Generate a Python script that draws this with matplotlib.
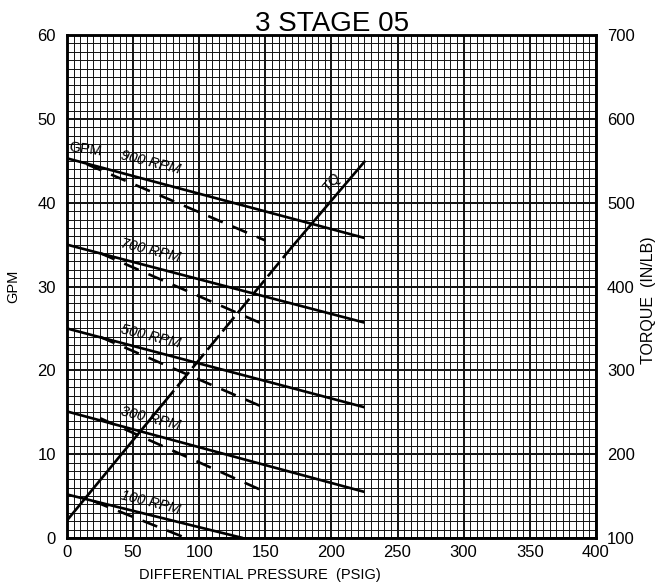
import matplotlib
matplotlib.use("Agg")
import matplotlib.pyplot as plt
import numpy as np

plt.rcParams['font.family'] = ['Liberation Sans', 'DejaVu Sans']

# ---- data ----
rpm_labels = ["900 RPM", "700 RPM", "500 RPM", "300 RPM", "100 RPM"]
# solid GPM lines: (pressure, gpm) end points
gpm_x = [[0, 225], [0, 225], [0, 225], [0, 225], [0, 133]]
gpm_y = [[45.3, 35.8], [35.0, 25.7], [25.0, 15.6], [15.1, 5.5], [5.2, 0.0]]
# dashed lines
dash_x = [[15, 150], [25, 150], [25, 150], [25, 150], [20, 90]]
dash_y = [[44.6, 35.5], [34.0, 25.4], [24.0, 15.5], [14.3, 5.5], [4.4, 0.0]]
# label positions for rpm text
lab_x = [63, 63, 63, 63, 63]
lab_y = [44.8, 34.3, 24.1, 14.3, 4.2]
# torque line (right axis, in/lb)
tq_x = [0, 72, 170, 225]
tq_y = [121, 259, 447, 549]

x_ticks = [0, 50, 100, 150, 200, 250, 300, 350, 400]
y_ticks = [0, 10, 20, 30, 40, 50, 60]
t_ticks = [100, 200, 300, 400, 500, 600, 700]

fig = plt.figure(figsize=(6.68, 5.85), dpi=100)
ax = fig.add_axes([0.1003, 0.0803, 0.7917, 0.8597])
ax.set_xlim(0, 400)
ax.set_ylim(0, 60)

# grid paper
for xv in np.arange(0, 401, 5):
    lw = 1.4 if xv % 50 == 0 else 0.7
    ax.axvline(xv, color='#111111', lw=lw, zorder=1)
for yv in np.arange(0, 61, 1):
    lw = 1.4 if yv % 10 == 0 else 0.7
    ax.axhline(yv, color='#111111', lw=lw, zorder=1)

for s in ax.spines.values():
    s.set_linewidth(1.8)

LW = 1.9
for i in range(len(rpm_labels)):
    ax.plot(gpm_x[i], gpm_y[i], color='black', lw=LW, zorder=3, solid_capstyle='butt')
    ax.plot(dash_x[i], dash_y[i], color='black', lw=LW, zorder=3,
            dashes=(6, 4), dash_capstyle='butt')
    ax.text(lab_x[i], lab_y[i], rpm_labels[i], fontsize=10.5, rotation=-14,
            ha='center', va='center', zorder=4, style='italic',
            rotation_mode='anchor')

ax.text(14, 46.4, "GPM", fontsize=10.5, rotation=-8, ha='center', va='center', zorder=4)

ax.set_xticks(x_ticks)
ax.set_yticks(y_ticks)
ax.tick_params(axis='both', length=0, labelsize=12)
ax.tick_params(axis='x', pad=5)
ax.tick_params(axis='y', pad=8)
ax.set_ylabel("GPM", fontsize=10.5, labelpad=12)

fig.text(260 / 668, 1 - 575 / 585, "DIFFERENTIAL PRESSURE  (PSIG)", fontsize=10.5,
         ha='center', va='center')

ax2 = ax.twinx()
ax2.set_ylim(100, 700)
ax2.set_yticks(t_ticks)
ax2.tick_params(axis='y', length=0, labelsize=12, pad=8)
for s in ax2.spines.values():
    s.set_linewidth(1.8)
ax2.plot(tq_x[:2], tq_y[:2], color='black', lw=LW, zorder=3)
ax2.plot(tq_x[1:3], tq_y[1:3], color='black', lw=LW, zorder=3, dashes=(7, 2), dash_capstyle='butt')
ax2.plot(tq_x[2:], tq_y[2:], color='black', lw=LW, zorder=3)
ax2.text(200, 525, "TQ", fontsize=10.5, rotation=50, ha='center', va='center', style='italic')
fig.text(649 / 668, 1 - 300 / 585, "TORQUE  (IN/LB)", fontsize=11.5, rotation=90,
         ha='center', va='center')

fig.text(0.497, 1 - 24 / 585, "3 STAGE 05", fontsize=20, ha='center', va='center')

fig.savefig("out.png", dpi=100)
